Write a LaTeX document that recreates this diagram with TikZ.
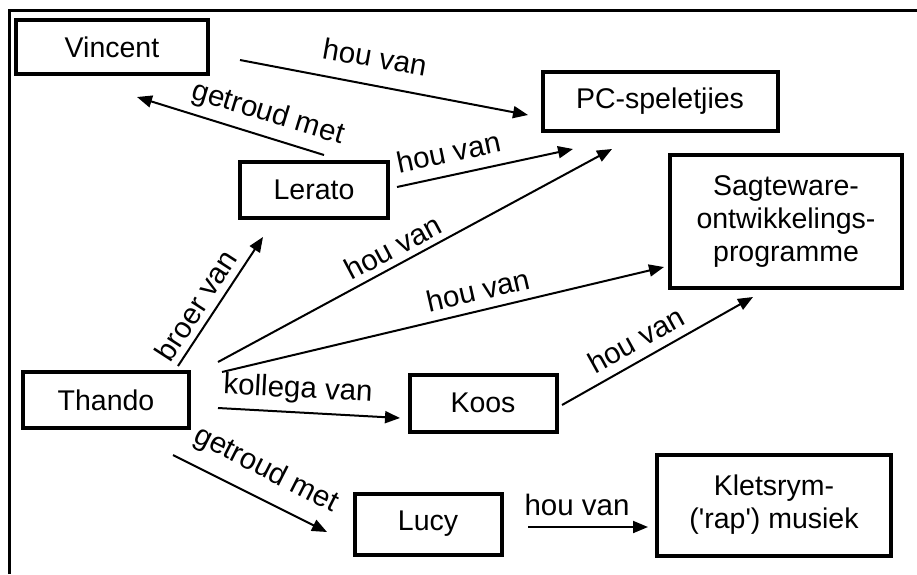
\documentclass[tikz,border=0pt]{standalone}
\usepackage{fontspec}
\setmainfont{Liberation Sans}
\usetikzlibrary{arrows.meta}

\begin{document}
\begin{tikzpicture}[x=1pt, y=-1pt,
    every node/.style={font=\fontsize{28.5}{33}\selectfont},
    box/.style={draw, line width=4pt, align=center, inner sep=0pt},
    lbl/.style={font=\fontsize{29.5}{33}\selectfont, inner sep=1pt},
    rel/.style={line width=2pt, -{Triangle[length=15pt,width=12pt]}}]
    \useasboundingbox (0,0) rectangle (917,574);
    \draw[line width=3pt] (9,574) -- (9,10) -- (917,10);
    % concepts
    \node[box, minimum width=192pt, minimum height=54pt] (vin) at (112,47) {Vincent};
    \node[box, minimum width=235pt, minimum height=59pt] (pc) at (660,101) {PC-speletjies};
    \node[box, minimum width=148pt, minimum height=56pt] (ler) at (314,190) {Lerato};
    \node[box, minimum width=232pt, minimum height=133pt] (sag) at (786,221) {Sagteware-\\ontwikkelings-\\programme};
    \node[box, minimum width=166pt, minimum height=56pt] (tha) at (106,400) {Thando};
    \node[box, minimum width=147pt, minimum height=57pt] (koo) at (483,403) {Koos};
    \node[box, minimum width=147pt, minimum height=61pt] (luc) at (428,524) {Lucy};
    \node[box, minimum width=234pt, minimum height=101pt] (rap) at (774,505) {Kletsrym-\\(\textquotesingle rap\textquotesingle) musiek};
    % arrow ends
    \coordinate (vin1) at (240,60);   \coordinate (pc1) at (528,115);
    \coordinate (ler1) at (324,155);  \coordinate (vin2) at (137,97);
    \coordinate (ler2) at (397,187);  \coordinate (pc2) at (573,149);
    \coordinate (tha1) at (218,362);  \coordinate (pc3) at (612,149);
    \coordinate (tha2) at (222,372);  \coordinate (sag1) at (664,267);
    \coordinate (tha3) at (178,366);  \coordinate (ler3) at (263,237);
    \coordinate (tha4) at (218,408);  \coordinate (koo1) at (400,418);
    \coordinate (tha5) at (173,455);  \coordinate (luc1) at (327,532);
    \coordinate (koo2) at (562,405);  \coordinate (sag2) at (753,297);
    \coordinate (luc2) at (528,527);  \coordinate (rap1) at (648,527);
    % relations
    \draw[rel] (vin1) -- (pc1);  \draw[rel] (ler1) -- (vin2);
    \draw[rel] (ler2) -- (pc2);  \draw[rel] (tha1) -- (pc3);
    \draw[rel] (tha2) -- (sag1); \draw[rel] (tha3) -- (ler3);
    \draw[rel] (tha4) -- (koo1); \draw[rel] (tha5) -- (luc1);
    \draw[rel] (koo2) -- (sag2); \draw[rel] (luc2) -- (rap1);
    \node[lbl, rotate=-10] (l1) at (375,57) {hou van};
    \node[lbl, rotate=-17] (l2) at (268,114) {getroud met};
    \node[lbl, rotate=12] (l3) at (449,152) {hou van};
    \node[lbl, rotate=28] (l4) at (393,247) {hou van};
    \node[lbl, rotate=13] (l5) at (478,290) {hou van};
    \node[lbl, rotate=57] (l6) at (196,305) {broer van};
    \node[lbl, rotate=-3] (l7) at (298,390) {kollega van};
    \node[lbl, rotate=-27] (l8) at (266,470) {getroud met};
    \node[lbl, rotate=29] (l9) at (636,340) {hou van};
    \node[lbl] (l10) at (577,505) {hou van};
\end{tikzpicture}
\end{document}
